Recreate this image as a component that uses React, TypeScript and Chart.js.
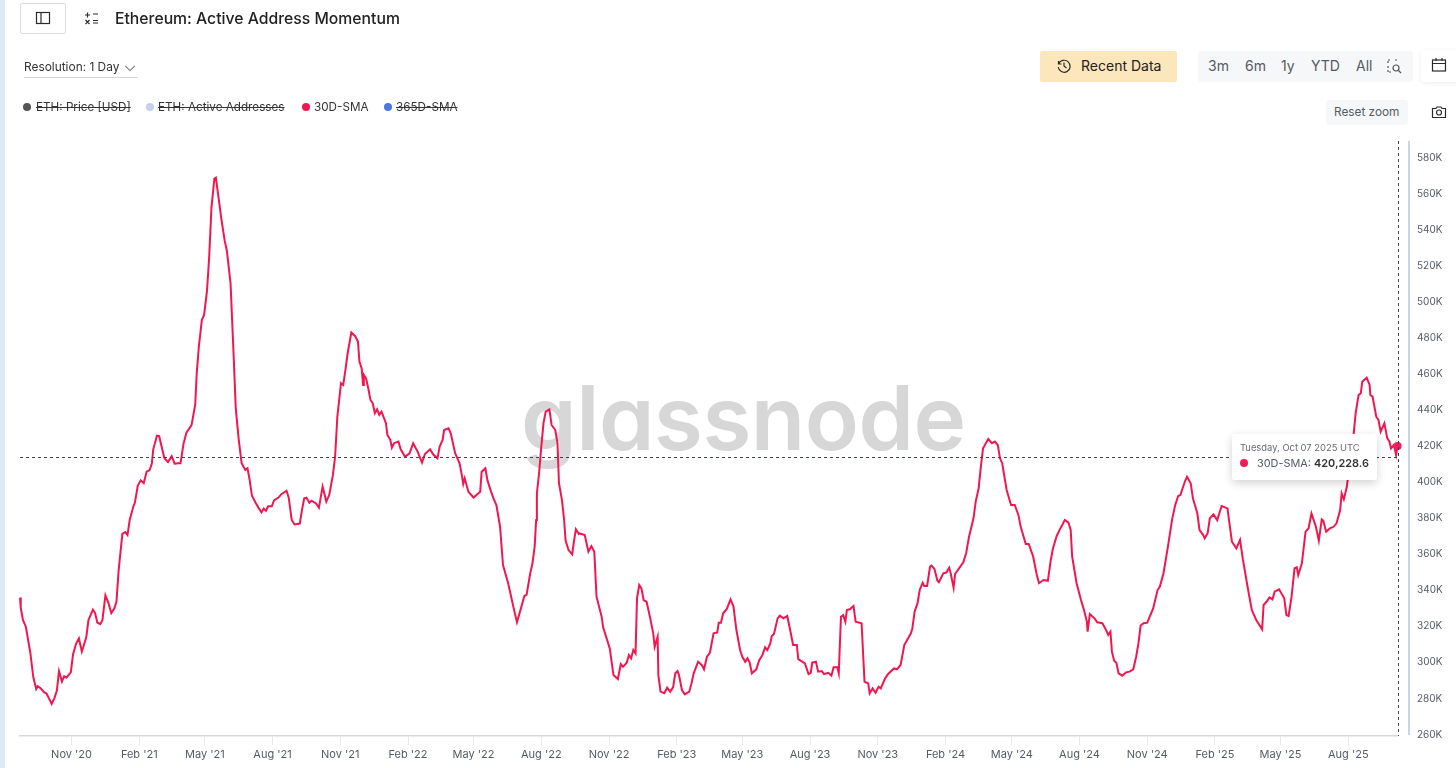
import React, { useEffect, useRef } from "react";
import { Chart, registerables } from "chart.js";

Chart.register(...registerables);

// [days since 2020-08-23, 30D-SMA in thousands]
const sma2020: [number, number][] = [
  [0,336],[1,330.3],[4,323.6],[8,319.7],[14,305.4],[18,292],[22,285.3],[24,286.8],[28,285.7],[33,283.4],[36,282.8],[40,279.5],[43,277],[47,280.5],[50,284.3],[53,295.2],[57,289.5],[60,292.4],[63,291.6],[69,294.5],[72,304.4],[76,310.2],[80,313.4],[84,306],[90,314],[93,323.6],[96,326.4],[99,329.3],[102,327.4],[105,322.2],[109,321.3],[112,323.6],[116,337.3],[120,333.1],[124,327.4],
];
const sma2021a: [number, number][] = [
  [128,329.9],[131,333.7],[134,351.3],[139,371.4],[143,372.4],[146,370.8],[149,379.1],[154,386.7],[156,388.6],[160,398.2],[164,401.1],[168,399.5],[172,405.9],[176,406.8],[179,410.3],[181,418.3],[186,425.9],[189,425.6],[196,413.5],[201,411.2],[206,414.5],[210,410.3],[215,410.6],[218,410.6],[222,421.2],[226,427.5],[233,431.7],[238,443.2],[240,460.4],[243,475.7],[247,490.1],[250,492.9],[254,506.3],[257,525.5],[260,552.3],[264,568.6],[266,569.1],[269,559.9],[274,544.6],[278,534.1],[281,528.4],[286,510.2],[290,471.9],[293,441.3],[297,424],[301,410.6],[306,406.8],[309,407.8],[312,401.1],[315,392.5],[320,388.6],[324,385.8],[328,383.3],[331,385.4],[334,384.2],[337,386.7],[342,386.7],[345,390],[351,391.5],[355,393.4],[362,395.3],[365,391.5],[369,379.1],[373,376.6],[380,377.1],[383,384.7],
];
const sma2021b: [number, number][] = [
  [386,391.1],[389,391.5],[393,388.7],[396,389.8],[402,388.3],[406,385.9],[411,397.6],[416,389.3],[420,393],[425,404.1],[428,414.3],[431,436.5],[436,455],[439,454],[442,462.4],[445,471.6],[450,483.1],[455,481.2],[459,478.1],[461,467],[464,463.3],[466,454],[467,459.6],[470,457.7],[473,452.2],[476,445.7],[479,443.9],[482,438.3],[485,440.5],[488,437.4],[491,439.2],[497,432.8],[499,426.3],[503,423.5],[505,419.2],[508,421.7],[514,422.6],[517,418.3],[523,414.2],[529,416.1],[534,421.7],[540,417],[546,410.9],[550,415.7],[557,418.3],[561,415.5],[567,413.3],[570,419.8],[574,423.5],[576,429],[582,430],[585,427.2],
];
const sma2022: [number, number][] = [
  [591,416.1],[597,410.5],[600,404.1],[602,399.1],[604,402.2],[609,394.8],[616,391.5],[625,394.8],[627,405.9],[632,407.8],[635,400.9],[639,395.8],[643,391.1],[647,387.4],[652,375.4],[656,354.1],[663,344],[670,331],[675,322.3],[681,331],[685,336.9],[688,337.5],[693,349.5],[696,355],[699,364.3],[701,379.1],[702,393.9],[705,405],[708,419.8],[711,432.8],[714,439.2],[719,440.5],[722,431.8],[727,429],[730,421.7],[732,399.5],[736,390.2],[739,379.1],[741,367.6],[745,362.4],[750,360],[752,366.2],[755,373.9],[759,371.3],[760,371.6],[767,370.7],[772,361.5],[776,364.6],[780,361.5],[783,336.5],[790,325.4],[792,319.5],[801,307.8],[806,293],[812,290.8],[816,299.1],[819,297.6],[824,299.9],[827,304.1],[830,302.3],[833,306.9],[836,305],[838,335.6],[841,343],[844,341.1],[847,334.6],[851,333.7],[856,324.5],[860,316.2],[862,308.7],[866,314.3],[867,293],[870,283.8],
];
const sma2023: [number, number][] = [
  [875,282.9],[879,286],[883,283.8],[887,286.2],[890,294],[893,295.2],[895,293],[899,284.7],[903,282.3],[909,283.8],[912,288.4],[915,294],[921,300.4],[926,298.6],[929,296.2],[933,303.2],[937,305.4],[942,316.2],[947,316.7],[949,322.1],[952,322.1],[955,327.3],[960,329.7],[965,335],[969,331],[973,318],[978,306.9],[981,303.2],[985,300.4],[988,302.3],[991,299.9],[994,294],[1000,296.2],[1004,301.3],[1008,303.8],[1012,308.4],[1015,306.9],[1019,310.6],[1021,314.7],[1024,315.8],[1029,324.5],[1032,326],[1037,324.5],[1042,325.8],[1046,318],[1050,309.7],[1055,309.7],[1057,301.9],[1066,299.5],[1071,293.6],[1074,294.3],[1076,299.9],[1081,300.4],[1084,294.9],[1089,295.2],[1092,293.6],[1098,294.3],[1102,292.7],[1105,297.3],[1110,297.3],[1112,294],[1115,325.4],[1118,326.3],[1121,322.6],[1123,329.1],[1127,329.5],[1132,331.3],[1135,322.6],[1143,321.7],[1147,289.3],[1152,288.4],[1154,282.9],[1158,285.6],[1162,283.2],[1166,286.5],[1169,285.6],[1175,291.2],[1179,293.6],[1187,296.7],[1191,296.2],
];
const sma2024a: [number, number][] = [
  [1196,298.6],[1201,309.7],[1210,316.2],[1212,319],[1215,328.2],[1219,332.9],[1222,340.3],[1226,344.3],[1228,342.5],[1232,342.5],[1236,353.2],[1238,353.8],[1242,351.9],[1246,345.4],[1248,344.5],[1254,349.5],[1258,349.9],[1262,352.6],[1264,349.5],[1268,341.5],[1270,349.1],[1277,353.2],[1281,355.4],[1285,360.6],[1289,369.9],[1295,380],[1298,389.3],[1302,396.7],[1305,408.7],[1308,418.9],[1315,424],[1320,421.7],[1324,422.6],[1328,420.7],[1331,413.3],[1334,410.5],[1340,395.7],[1346,387.4],[1351,387.4],[1356,381.9],[1359,375.4],[1366,365.8],[1370,365.8],[1376,358.8],[1381,348.6],[1384,344],[1390,345.8],[1396,345.3],[1400,356.9],[1403,363.4],[1408,370.2],[1412,373.6],[1419,379.1],[1424,377.6],[1427,373.6],[1429,358.8],[1435,344],[1441,334.7],[1445,329.2],[1449,322.7],[1450,317.1],[1453,326.9],[1460,324.2],[1463,322.3],[1470,321.8],[1475,318.1],[1478,315.3],[1481,317.1],[1483,306],[1486,301],[1489,299.9],[1492,294],[1497,292.7],[1502,294.5],[1507,294.9],[1512,296.2],[1516,303.3],[1519,310.6],[1522,320.5],[1526,321.8],[1531,322.1],
];
const sma2025: [number, number][] = [
  [1539,330],[1545,340.2],[1548,342],[1553,349.4],[1559,364.2],[1565,380],[1569,387.4],[1573,392.4],[1576,392.9],[1582,400.3],[1585,403.1],[1590,399.4],[1593,391.1],[1599,382.8],[1602,373.5],[1607,370.7],[1609,368.9],[1613,371.7],[1616,380],[1621,382.2],[1626,379],[1632,386.8],[1640,385.5],[1642,379],[1646,367],[1652,363.3],[1657,368],[1661,356.9],[1668,340.2],[1673,329.1],[1679,323.6],[1687,318.4],[1689,331.9],[1693,333.7],[1697,336.1],[1701,335],[1704,339.3],[1710,340.6],[1717,335.6],[1720,326.3],[1723,325.8],[1727,336.5],[1731,352.2],[1734,352.8],[1736,348.5],[1741,355],[1746,372.6],[1750,374.4],[1754,382.7],[1760,375.3],[1764,367.6],[1768,379.4],[1770,378.7],[1774,372.6],[1779,374.4],[1784,375.3],[1788,377.2],[1793,384.6],[1795,393.8],[1798,390.5],[1802,397.5],[1806,410.5],[1811,425.3],[1814,438.3],[1818,448.4],[1821,449.4],[1823,455.8],[1829,458],[1833,454],[1834,448.4],[1837,447.5],[1842,436.4],[1845,434.6],[1848,428.1],[1853,432.7],[1857,424.4],[1860,422.5],[1862,418.8],[1866,420.7],[1869,415.1],[1871,420.2],
];

const smaPoints = [...sma2020, ...sma2021a, ...sma2021b, ...sma2022, ...sma2023, ...sma2024a, ...sma2025];

const START_UTC = Date.UTC(2020, 7, 23);
const DAY_MS = 86400000;

const xTickDates = ["2020-11-01","2021-02-01","2021-05-01","2021-08-01","2021-11-01","2022-02-01","2022-05-01","2022-08-01","2022-11-01","2023-02-01","2023-05-01","2023-08-01","2023-11-01","2024-02-01","2024-05-01","2024-08-01","2024-11-01","2025-02-01","2025-05-01","2025-08-01"];
const xTickLabels = ["Nov '20","Feb '21","May '21","Aug '21","Nov '21","Feb '22","May '22","Aug '22","Nov '22","Feb '23","May '23","Aug '23","Nov '23","Feb '24","May '24","Aug '24","Nov '24","Feb '25","May '25","Aug '25"];
const yTicks = [260,280,300,320,340,360,380,400,420,440,460,480,500,520,540,560,580];

const Y_MIN = 259.2;
const Y_MAX = 589.4;
const CROSSHAIR_Y = 413.8;

const RED = "#f2164f";
const FONT = "Inter, 'Noto Sans', sans-serif";

const legendItems = [
  { label: "ETH: Price [USD]", color: "#555555", off: true, dot: 27, text: 36 },
  { label: "ETH: Active Addresses", color: "#c6cdf1", off: true, dot: 150, text: 158 },
  { label: "30D-SMA", color: RED, off: false, dot: 306, text: 314 },
  { label: "365D-SMA", color: "#4a78e0", off: true, dot: 388, text: 396 },
];
const rangeButtons = [
  { label: "3m", x: 1208 },
  { label: "6m", x: 1245 },
  { label: "1y", x: 1281 },
  { label: "YTD", x: 1311 },
  { label: "All", x: 1356 },
];

const overlayPlugin = {
  id: "overlayLines",
  afterDatasetsDraw(chart: any) {
    const { ctx, chartArea, scales } = chart;
    const lastX = scales.x.getPixelForValue(START_UTC + 1871 * DAY_MS);
    const crossY = Math.round(scales.y.getPixelForValue(CROSSHAIR_Y)) + 0.5;
    ctx.save();
    ctx.lineWidth = 1;
    ctx.strokeStyle = "#3c4650";
    ctx.setLineDash([3, 3]);
    ctx.beginPath();
    ctx.moveTo(chartArea.left, crossY);
    ctx.lineTo(lastX, crossY);
    ctx.moveTo(Math.round(lastX) + 0.5, chartArea.top);
    ctx.lineTo(Math.round(lastX) + 0.5, chartArea.bottom);
    ctx.stroke();
    ctx.setLineDash([]);
    ctx.strokeStyle = "#b9c5ec";
    ctx.lineWidth = 1.5;
    ctx.beginPath();
    ctx.moveTo(1409, chartArea.top);
    ctx.lineTo(1409, chartArea.bottom - 1);
    ctx.stroke();
    ctx.restore();
  },
};

const abs = (left: number, top: number, extra: React.CSSProperties = {}): React.CSSProperties => ({
  position: "absolute",
  left,
  top,
  fontFamily: FONT,
  whiteSpace: "nowrap",
  ...extra,
});

function Icon({ x, y, size = 16, children }: { x: number; y: number; size?: number; children: React.ReactNode }) {
  return (
    <svg
      width={size}
      height={size}
      viewBox="0 0 16 16"
      fill="none"
      stroke="#2a2a2a"
      strokeWidth={1.2}
      style={{ position: "absolute", left: x - size / 2, top: y - size / 2 }}
    >
      {children}
    </svg>
  );
}

export default function App() {
  const ref = useRef<HTMLCanvasElement>(null);

  useEffect(() => {
    document.body.style.margin = "0";
    const chart = new Chart(ref.current as HTMLCanvasElement, {
      type: "line",
      data: {
        datasets: [
          {
            label: "30D-SMA",
            data: smaPoints.map(([d, v]) => ({ x: START_UTC + d * DAY_MS, y: v })),
            borderColor: RED,
            borderWidth: 2,
            tension: 0,
            pointRadius: (c: any) => (c.dataIndex === smaPoints.length - 1 ? 4 : 0),
            pointBackgroundColor: "#f7195a",
            pointBorderWidth: 0,
            clip: false,
          },
        ],
      },
      options: {
        animation: false,
        responsive: false,
        events: [],
        layout: { padding: { left: 20, top: 141, right: 0, bottom: 0 } },
        plugins: { legend: { display: false }, tooltip: { enabled: false } },
        scales: {
          x: {
            type: "linear",
            min: START_UTC,
            max: START_UTC + 1871 * DAY_MS,
            afterFit: (s: any) => {
              s.height = 32;
            },
            afterBuildTicks: (s: any) => {
              s.ticks = xTickDates.map((d) => ({ value: Date.parse(d + "T00:00:00Z") }));
            },
            border: { color: "#d9d9d9", width: 1.5 },
            grid: { drawOnChartArea: false, tickLength: 9, color: "#e8e8e8" },
            ticks: {
              autoSkip: false,
              maxRotation: 0,
              padding: 3,
              color: "#555b63",
              font: { family: FONT, size: 11 },
              callback: (v: any) => {
                const i = xTickDates.findIndex((d) => Date.parse(d + "T00:00:00Z") === v);
                return i >= 0 ? xTickLabels[i] : "";
              },
            },
          },
          y: {
            position: "right",
            min: Y_MIN,
            max: Y_MAX,
            afterFit: (s: any) => {
              s.width = 58.4;
            },
            afterBuildTicks: (s: any) => {
              s.ticks = yTicks.map((value) => ({ value }));
            },
            border: { display: false },
            grid: { display: false },
            ticks: {
              autoSkip: false,
              padding: 11.4,
              color: "#555b63",
              font: { family: FONT, size: 10 },
              callback: (v: any) => `${v}K`,
            },
          },
        },
      },
      plugins: [overlayPlugin],
    } as any);
    return () => chart.destroy();
  }, []);

  return (
    <div style={{ position: "relative", width: 1456, height: 768, background: "#fff", overflow: "hidden" }}>
      <div style={{ position: "absolute", left: 0, top: 0, width: 5, height: 768, background: "#dceaf3" }} />

      <div
        style={abs(521, 352.6, {
          fontSize: 89,
          fontWeight: 600,
          color: "#d7d7d7",
          letterSpacing: -0.5,
          lineHeight: "130px",
          fontFeatureSettings: '"cv11" 1',
        })}
      >
        glassnode
      </div>

      <canvas ref={ref} width={1456} height={768} style={{ position: "absolute", left: 0, top: 0, display: "block" }} />

      <div style={abs(20, 3, { width: 46, height: 31, border: "1px solid #dcdcdc", boxSizing: "border-box", borderRadius: 2 })} />
      <Icon x={43} y={18}>
        <rect x="1.5" y="2.5" width="13" height="11" />
        <line x1="6" y1="2.5" x2="6" y2="13.5" />
      </Icon>
      <Icon x={91} y={18}>
        <path d="M2 5h5M4.5 2.5v5M10 4h5M10 10.5h5M10 13h5M2.5 10l4 4M6.5 10l-4 4" />
      </Icon>
      <div style={abs(115, 9, { fontSize: 15.75, fontWeight: 500, color: "#222", lineHeight: "20px" })}>
        Ethereum: Active Address Momentum
      </div>

      <div style={abs(24, 59, { fontSize: 11.9, color: "#333", lineHeight: "16px" })}>Resolution: 1 Day</div>
      <Icon x={130} y={68} size={14}>
        <path d="M2.5 5.5 8 11l5.5-5.5" stroke="#777" />
      </Icon>
      <div style={abs(24, 77, { width: 114, height: 1, background: "#d8d8d8" })} />

      {legendItems.map((it) => (
        <React.Fragment key={it.label}>
          <div style={abs(it.dot - 4, 102.5, { width: 8, height: 8, borderRadius: 4, background: it.color })} />
          <div
            style={abs(it.text, 99, {
              fontSize: 11.7,
              lineHeight: "16px",
              color: "#333",
              textDecoration: it.off ? "line-through" : "none",
            })}
          >
            {it.label}
          </div>
        </React.Fragment>
      ))}

      <div style={abs(1040, 51, { width: 137, height: 31, background: "#fce6bb", borderRadius: 2 })} />
      <Icon x={1064} y={66}>
        <path d="M2.5 3v3h3M2.6 6a6 6 0 1 1-.4 3M8 4.5V8l2.5 2" />
      </Icon>
      <div style={abs(1081, 57, { fontSize: 14, color: "#222", lineHeight: "18px" })}>Recent Data</div>

      <div style={abs(1198, 51, { width: 215, height: 31, background: "#f6f7f9", borderRadius: 3 })} />
      {rangeButtons.map((b) => (
        <div key={b.label} style={abs(b.x, 57, { fontSize: 14, color: "#555b63", lineHeight: "18px" })}>
          {b.label}
        </div>
      ))}
      <Icon x={1394} y={66}>
        <path d="M2 5V2h3M9 2h2M2 8v2M2 12v2h3" stroke="#555" strokeDasharray="2 1" />
        <circle cx="10" cy="10" r="3" stroke="#555" />
        <path d="M12.5 12.5 15 15" stroke="#555" />
      </Icon>

      <div style={abs(1421, 50, { width: 40, height: 32, background: "#fff", borderRadius: 4, boxShadow: "0 1px 5px rgba(0,0,0,0.08)" })} />
      <Icon x={1439} y={65}>
        <rect x="1.5" y="3" width="13" height="11" />
        <path d="M1.5 6.5h13M5 1v3M11 1v3" />
      </Icon>

      <div style={abs(1326, 100, { width: 82, height: 25, background: "#f6f7f9", borderRadius: 3 })} />
      <div style={abs(1334, 104, { fontSize: 11.8, color: "#555b63", lineHeight: "16px" })}>Reset zoom</div>
      <Icon x={1439} y={112}>
        <path d="M1.5 4.5h3.5l1-1.5h4l1 1.5h3.5v9h-13z" />
        <circle cx="8" cy="8.5" r="2.5" />
      </Icon>

      <div style={abs(1232, 434, { width: 145, height: 46, background: "#fff", borderRadius: 2, boxShadow: "0 3px 10px rgba(0,0,0,0.18)" })} />
      <div style={abs(1240, 441, { fontSize: 9.4, color: "#666b72", lineHeight: "13px" })}>Tuesday, Oct 07 2025 UTC</div>
      <div style={abs(1240, 459, { width: 8, height: 8, borderRadius: 4, background: "#f7195a" })} />
      <div style={abs(1257, 455, { fontSize: 10.9, color: "#555b63", lineHeight: "16px" })}>
        30D-SMA: <b style={{ color: "#333", fontWeight: 600 }}>420,228.6</b>
      </div>
    </div>
  );
}
